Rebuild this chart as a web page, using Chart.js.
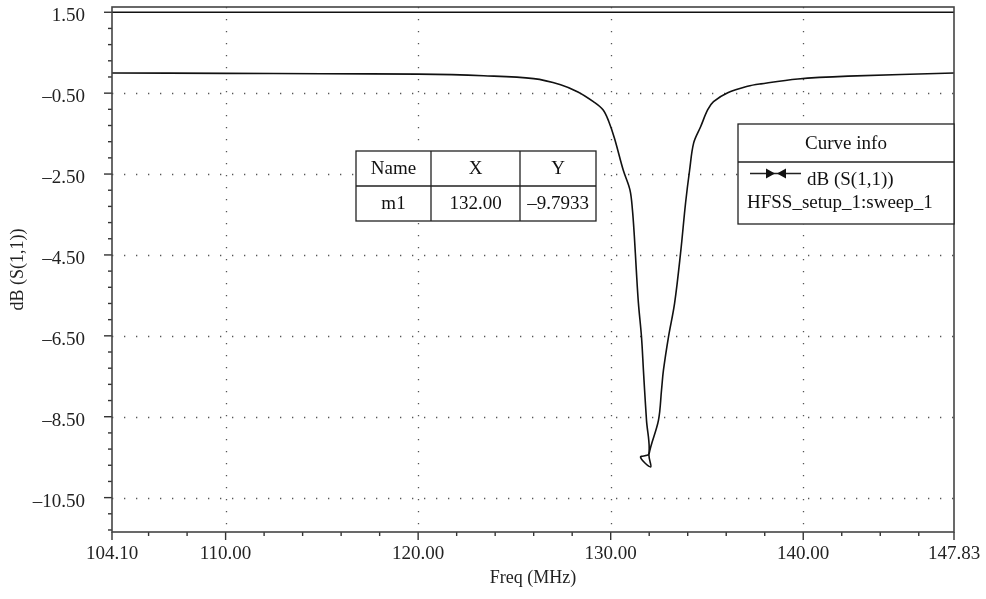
<!DOCTYPE html>
<html>
<head>
<meta charset="utf-8">
<script src="https://cdn.jsdelivr.net/npm/chart.js@4.4.0/dist/chart.umd.min.js"></script>
<style>
  html, body { margin: 0; padding: 0; background: #fff; }
  #wrap { width: 986px; height: 599px; }
</style>
</head>
<body>
<div id="wrap"><canvas id="chart" width="986" height="599"></canvas></div>
<script>
// S11 sweep (MHz, dB)
const freq = [104.1, 110, 115, 120, 123.4, 126.0, 127.4, 128.3, 129.1, 129.6, 129.9, 130.2, 130.65, 131.0, 131.13,
  131.23, 131.33, 131.44, 131.6, 131.7, 131.76, 131.86, 131.98, 131.55, 132.08, 131.99, 132.48, 132.64,
  132.74, 133.0, 133.32, 133.63, 133.89, 134.1, 134.31, 134.67, 135.04, 135.34, 136.08, 137.11, 137.8, 139.72, 142.33, 147.83];
const dB = [0.00, -0.01, -0.02, -0.03, -0.07, -0.14, -0.29, -0.47, -0.71, -0.91, -1.20, -1.62, -2.40, -2.89, -3.39,
  -4.05, -4.87, -5.69, -6.53, -7.35, -7.84, -8.59, -9.42, -9.50, -9.74, -9.43, -8.59, -7.84,
  -7.35, -6.53, -5.69, -4.45, -3.21, -2.40, -1.73, -1.33, -0.91, -0.71, -0.49, -0.33, -0.27, -0.15, -0.08, 0.00];

// flat line across the top
const topFreq = [104.1, 147.83];
const topLevel = [1.5, 1.5];

const xTicks = [104.1, 110, 120, 130, 140, 147.83];
const yTicks = [1.5, -0.5, -2.5, -4.5, -6.5, -8.5, -10.5];
const xGrid = [110, 120, 130, 140];
const yGrid = [-0.5, -2.5, -4.5, -6.5, -8.5, -10.5];

const markerHead = ['Name', 'X', 'Y'];
const markerRow = ['m1', '132.00', '\u20139.7933'];
const curveTitle = 'Curve info';
const curveName = 'dB (S(1,1))';
const curveSetup = 'HFSS_setup_1:sweep_1';

const FONT = '"Liberation Serif", "Times New Roman", serif';
const fmt = v => v.toFixed(2).replace('-', '\u2013');

const decor = {
  id: 'decor',
  beforeDatasetsDraw(chart) {
    const {ctx, chartArea: a, scales: {x, y}} = chart;
    ctx.save();
    ctx.strokeStyle = '#555';
    ctx.lineWidth = 1.3;
    ctx.setLineDash([1.3, 10.7]);
    xGrid.forEach(v => {
      const px = Math.round(x.getPixelForValue(v)) + 0.5;
      ctx.beginPath(); ctx.moveTo(px, a.top); ctx.lineTo(px, a.bottom); ctx.stroke();
    });
    yGrid.forEach(v => {
      const py = Math.round(y.getPixelForValue(v)) + 0.5;
      ctx.beginPath(); ctx.moveTo(a.left, py); ctx.lineTo(a.right, py); ctx.stroke();
    });
    ctx.restore();
  },
  afterDatasetsDraw(chart) {
    const {ctx, chartArea: a, scales: {x, y}} = chart;
    ctx.save();
    // ticks
    ctx.strokeStyle = '#333';
    ctx.lineWidth = 1.4;
    for (let v = 106; v < 147.83; v += 2) {
      const px = x.getPixelForValue(v);
      const major = v % 10 === 0;
      ctx.beginPath(); ctx.moveTo(px, a.bottom); ctx.lineTo(px, a.bottom + (major ? 8 : 4)); ctx.stroke();
    }
    [104.1, 147.83].forEach(v => {
      const px = x.getPixelForValue(v);
      ctx.beginPath(); ctx.moveTo(px, a.bottom); ctx.lineTo(px, a.bottom + 8); ctx.stroke();
    });
    for (let i = 0; i <= 32; i++) {
      const v = 1.5 - i * 0.4;
      const py = y.getPixelForValue(v);
      const major = i % 5 === 0;
      ctx.beginPath(); ctx.moveTo(a.left, py); ctx.lineTo(a.left - (major ? 8 : 4), py); ctx.stroke();
    }
    // frame
    ctx.strokeStyle = '#444';
    ctx.lineWidth = 1.6;
    ctx.strokeRect(a.left, a.top, a.right - a.left, a.bottom - a.top);

    // marker table
    ctx.font = '19px ' + FONT;
    ctx.fillStyle = '#fff';
    ctx.strokeStyle = '#222';
    ctx.lineWidth = 1.3;
    const tx = [356, 431, 520, 596], ty = [151, 186, 221];
    ctx.fillRect(tx[0], ty[0], tx[3] - tx[0], ty[2] - ty[0]);
    ctx.strokeRect(tx[0], ty[0], tx[3] - tx[0], ty[2] - ty[0]);
    ctx.beginPath();
    ctx.moveTo(tx[0], ty[1]); ctx.lineTo(tx[3], ty[1]);
    ctx.moveTo(tx[1], ty[0]); ctx.lineTo(tx[1], ty[2]);
    ctx.moveTo(tx[2], ty[0]); ctx.lineTo(tx[2], ty[2]);
    ctx.stroke();
    ctx.fillStyle = '#111';
    ctx.textAlign = 'center';
    ctx.textBaseline = 'middle';
    for (let c = 0; c < 3; c++) {
      const cx = (tx[c] + tx[c + 1]) / 2;
      ctx.fillText(markerHead[c], cx, (ty[0] + ty[1]) / 2 + 1);
      ctx.fillText(markerRow[c], cx, (ty[1] + ty[2]) / 2 + 1);
    }

    // curve info box
    const bx = 738, bx2 = a.right, by = 124, by1 = 162, by2 = 224;
    ctx.fillStyle = '#fff';
    ctx.fillRect(bx, by, bx2 - bx, by2 - by);
    ctx.strokeRect(bx, by, bx2 - bx, by2 - by);
    ctx.beginPath(); ctx.moveTo(bx, by1); ctx.lineTo(bx2, by1); ctx.stroke();
    ctx.fillStyle = '#111';
    ctx.fillText(curveTitle, (bx + bx2) / 2, 144);
    ctx.textAlign = 'left';
    ctx.fillText(curveName, 807, 180);
    ctx.fillText(curveSetup, 747, 203);
    // legend symbol
    ctx.beginPath(); ctx.moveTo(750, 173.5); ctx.lineTo(801, 173.5); ctx.stroke();
    ctx.beginPath();
    ctx.moveTo(766, 168.5); ctx.lineTo(775, 173.5); ctx.lineTo(766, 178.5); ctx.closePath();
    ctx.moveTo(786, 168.5); ctx.lineTo(777, 173.5); ctx.lineTo(786, 178.5); ctx.closePath();
    ctx.fill();
    ctx.restore();
  }
};

new Chart(document.getElementById('chart').getContext('2d'), {
  type: 'scatter',
  data: {
    datasets: [{
      label: curveName,
      data: freq.map((f, i) => ({x: f, y: dB[i]})),
      showLine: true,
      borderColor: '#111',
      borderWidth: 1.6,
      pointRadius: 0,
      tension: 0.35
    }, {
      label: 'top',
      data: topFreq.map((f, i) => ({x: f, y: topLevel[i]})),
      showLine: true,
      borderColor: '#111',
      borderWidth: 1.6,
      pointRadius: 0
    }]
  },
  options: {
    responsive: false,
    animation: false,
    layout: {padding: {top: 7, right: 32, left: 0, bottom: 0}},
    plugins: {legend: {display: false}, tooltip: {enabled: false}},
    scales: {
      x: {
        type: 'linear', min: 104.1, max: 147.83,
        afterBuildTicks: s => { s.ticks = xTicks.map(v => ({value: v})); },
        afterFit: s => { s.height = 67; s.paddingLeft = 0; s.paddingRight = 0; },
        grid: {display: false},
        border: {display: false},
        ticks: {
          autoSkip: false, maxRotation: 0, padding: 3,
          color: '#222', font: {family: FONT, size: 19},
          callback: v => fmt(v)
        },
        title: {display: true, text: 'Freq (MHz)', color: '#222',
          font: {family: FONT, size: 18}, padding: {top: 0, bottom: 10}}
      },
      y: {
        type: 'linear', min: -11.35, max: 1.63,
        afterBuildTicks: s => { s.ticks = yTicks.map(v => ({value: v})); },
        afterFit: s => { s.width = 112; s.paddingTop = 0; s.paddingBottom = 0; },
        grid: {display: false},
        border: {display: false},
        ticks: {
          autoSkip: false, padding: 19, labelOffset: 4,
          color: '#222', font: {family: FONT, size: 19},
          callback: v => fmt(v)
        },
        title: {display: true, text: 'dB (S(1,1))', color: '#222',
          font: {family: FONT, size: 18}, padding: {top: 7, bottom: 0}}
      }
    }
  },
  plugins: [decor]
});
</script>
</body>
</html>
